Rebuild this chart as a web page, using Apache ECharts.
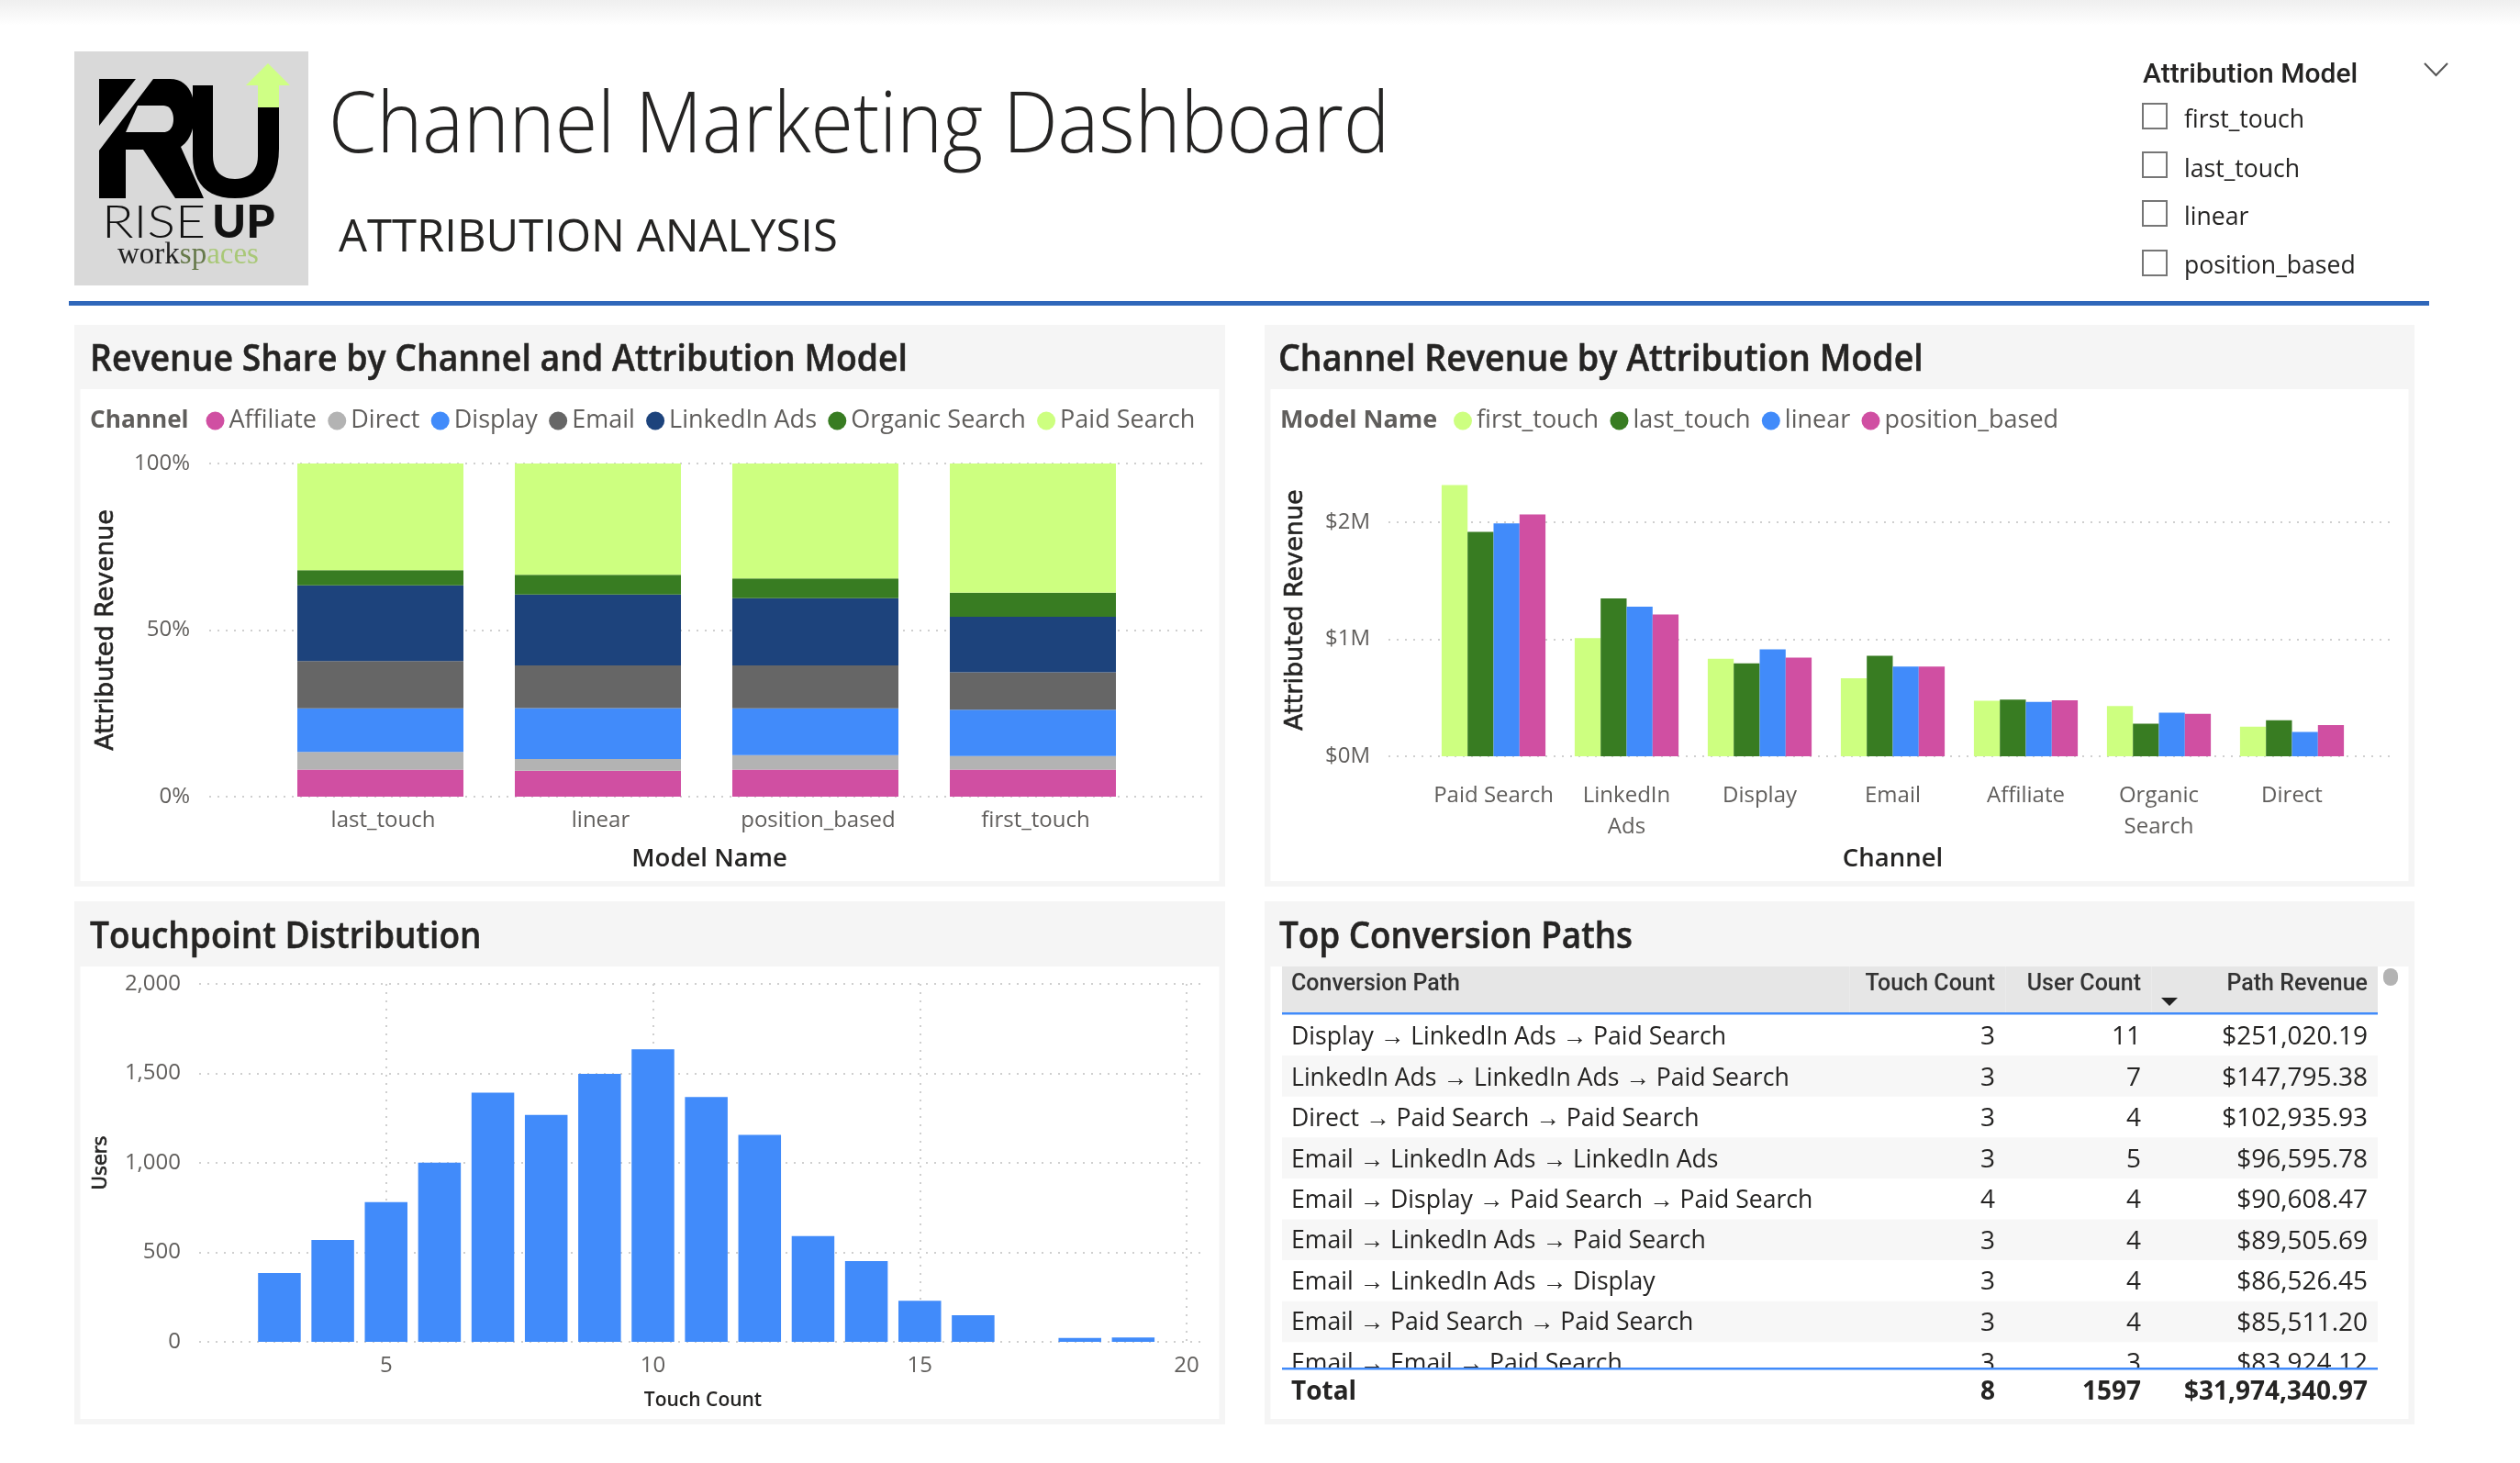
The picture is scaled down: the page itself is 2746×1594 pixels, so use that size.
<!DOCTYPE html>
<html><head><meta charset="utf-8">
<style>html,body{margin:0;padding:0;background:#fff}#c{width:2746px;height:1594px}</style>
<script src="https://cdn.jsdelivr.net/npm/echarts@6/dist/echarts.min.js"></script>
</head><body><div id="c"></div>
<script>
// ---- data ----
const models = ['last_touch','linear','position_based','first_touch'];
const channels = ['Affiliate','Direct','Display','Email','LinkedIn Ads','Organic Search','Paid Search'];
const shareAffiliate = [8.1,7.8,8.1,8.1];
const shareDirect    = [5.3,3.5,4.4,4.1];
const shareDisplay   = [13.1,15.3,14.0,13.9];
const shareEmail     = [14.2,12.8,12.9,11.2];
const shareLinkedIn  = [22.7,21.3,20.2,16.7];
const shareOrganic   = [4.6,5.9,5.9,7.2];
const sharePaid      = [32.0,33.4,34.5,38.8];
const channelOrder = ['Paid Search','LinkedIn\nAds','Display','Email','Affiliate','Organic\nSearch','Direct'];
const modelOrder = ['first_touch','last_touch','linear','position_based'];
const revFirst  = [2317000,1010000,833000,667000,474000,429000,253000];
const revLast   = [1917000,1349000,795000,859000,484000,279000,308000];
const revLinear = [1990000,1279000,913000,766000,465000,372000,208000];
const revPos    = [2067000,1212000,843000,766000,478000,362000,266000];
const touchCounts = [3,4,5,6,7,8,9,10,11,12,13,14,15,16,18,19];
const touchUsers  = [385,569,781,1001,1392,1268,1498,1635,1368,1156,591,451,230,149,22,24];
const pathHeaders = ['Conversion Path','Touch Count','User Count','Path Revenue'];
const pathNames = ['Display → LinkedIn Ads → Paid Search','LinkedIn Ads → LinkedIn Ads → Paid Search','Direct → Paid Search → Paid Search','Email → LinkedIn Ads → LinkedIn Ads','Email → Display → Paid Search → Paid Search','Email → LinkedIn Ads → Paid Search','Email → LinkedIn Ads → Display','Email → Paid Search → Paid Search','Email → Email → Paid Search'];
const pathTouch = ['3','3','3','3','4','3','3','3','3'];
const pathUsers = ['11','7','4','5','4','4','4','4','3'];
const pathRevenue = ['$251,020.19','$147,795.38','$102,935.93','$96,595.78','$90,608.47','$89,505.69','$86,526.45','$85,511.20','$83,924.12'];
const pathTotal = ['Total','8','1597','$31,974,340.97'];
const slicerItems = ['first_touch','last_touch','linear','position_based'];
// ---- style ----
const channelColors = ['#D04FA2','#B3B3B3','#418BFA','#666666','#1D437C','#387C22','#CDFF80'];
const modelColors = ['#CDFF80','#387C22','#418BFA','#D04FA2'];
const BODY='"Open Sans"', HEAD='Roboto', WIDE='"DejaVu Sans"';
const grey='#605E5C', dark='#252423', gridC='#CFCFCF';
const g=[];
const rect=(x,y,w,h,fill,extra)=>g.push(Object.assign({type:'rect',shape:{x,y,width:w,height:h},style:{fill},z:-5,silent:true},extra||{}));
const txt=(x,y,text,o)=>{o=o||{};const st={text,fill:o.color||dark,font:(o.weight||'400')+' '+(o.size||28)+'px '+(o.family||BODY),textAlign:o.align||'left',textVerticalAlign:'middle',textBaseline:'middle'};
  if(o.stroke){st.stroke=o.color||dark;st.lineWidth=o.stroke;}
  g.push({type:'text',x,y,z:o.z===undefined?5:o.z,silent:true,scaleX:o.sx||1,style:st});};
// top shade
rect(0,0,2746,28,new echarts.graphic.LinearGradient(0,0,0,1,[{offset:0,color:'#EFEFEF'},{offset:1,color:'#FFFFFF'}]));
// logo
rect(81,56,255,255,'#D9D9D9');
const toPoints=d=>{const t=d.match(/[MLCZ]|-?[\d.]+/g);const pts=[];let i=0,cur=null;
  while(i<t.length){const c=t[i++];
    if(c==='M'||c==='L'){cur=[+t[i++],+t[i++]];pts.push(cur);}
    else if(c==='C'){const a=[+t[i++],+t[i++]],b=[+t[i++],+t[i++]],e=[+t[i++],+t[i++]],s=cur;
      for(let k=1;k<=12;k++){const u=k/12,v=1-u;pts.push([v*v*v*s[0]+3*v*v*u*a[0]+3*v*u*u*b[0]+u*u*u*e[0],v*v*v*s[1]+3*v*v*u*a[1]+3*v*u*u*b[1]+u*u*u*e[1]]);}
      cur=e;}
  }return pts;};
const path=(d,fill)=>g.push({type:'polygon',shape:{points:toPoints(d)},style:{fill},z:-4,silent:true});
path('M292,69 L316,93 L304,93 L304,117 L281,117 L281,93 L268,93 Z','#CFFF85');
path('M210,93 L232,93 L232,170 C232,188 243,195 256,195 C271,195 281,186 281,170 L281,117 L304,117 L304,162 C304,200 285,216 256,216 C226,216 210,200 210,170 Z','#000');
path('M108,86 L148,86 L108,137 Z','#000');
path('M167,86 L185,86 C204,86 212,102 212,122 C212,142 206,154 197,160 L222,216 L191,216 L156,163 L137,163 L137,216 L108,216 L108,164 Z','#000');
path('M150,115 L178,115 C186,115 189,123 189,130 C189,138 185,144 178,144 L137,144 Z','#D9D9D9');
txt(111,243,'RISE',{size:50,weight:'300',family:'Lato',color:'#111',sx:1.14});
txt(231,243,'UP',{size:50,weight:'900',family:'Lato',color:'#111'});
g.push({type:'text',x:128,y:278,z:5,silent:true,style:{text:'{a|work}{b|sp}{c|aces}',textVerticalAlign:'middle',textBaseline:'middle',rich:{a:{font:'400 33px "Liberation Serif"',fill:'#222',color:'#222'},b:{font:'400 33px "Liberation Serif"',fill:'#66794a',color:'#66794a'},c:{font:'400 33px "Liberation Serif"',fill:'#a9c878',color:'#a9c878'}}}});
// headings
txt(358,140,'Channel Marketing Dashboard',{size:92,weight:'300',sx:0.918});
txt(369,260,'ATTRIBUTION ANALYSIS',{size:49});
rect(75,328,2572,5,'#2F67BA');
// slicer
txt(2335,82,'Attribution Model',{size:30,weight:'500',family:HEAD});
g.push({type:'polyline',shape:{points:[[2642,69],[2654.5,82],[2667,69]]},style:{stroke:'#555',lineWidth:2,fill:'none'},z:5,silent:true});
[112,165,218,272].forEach((y,i)=>{g.push({type:'rect',shape:{x:2335,y:y+1,width:26,height:27},style:{fill:'#fff',stroke:'#767676',lineWidth:2},z:5,silent:true});
  txt(2380,[131,185,237,290][i],slicerItems[i],{size:27,sx:0.985});});
// panels
const panel=(x,y,w,h,bandH)=>{rect(x,y,w,h,'#F5F5F5');rect(x+6.5,y+bandH,w-13,h-bandH-6,'#FFFFFF');};
panel(81,354,1254,612,70); panel(1378,354,1253,612,70);
panel(81,982,1254,570,71); panel(1378,982,1253,570,71);
const headOpt=sx=>({size:40,weight:'600',sx,stroke:0.5});
txt(98,393,'Revenue Share by Channel and Attribution Model',headOpt(0.935));
txt(1393,393,'Channel Revenue by Attribution Model',headOpt(0.94));
txt(98,1022,'Touchpoint Distribution',headOpt(0.925));
txt(1394,1022,'Top Conversion Paths',headOpt(0.92));
txt(98,458,'Channel',{size:27,weight:'700',color:grey,sx:0.97});
txt(1395,458,'Model Name',{size:27,weight:'700',color:grey});
// table
rect(1397,1053,1194,50,'#E6E6E6');
[2015,2185,2344].forEach(x=>rect(x,1053,1,50,'#EBEBEB'));
[1,3,5,7].forEach(i=>rect(1397,1105.5+i*44.6,1194,44.6,'#F7F7F7'));
rect(1397,1103,1194,2.5,'#418BFA');
const colX=[1407,2174,2333,2580];
pathHeaders.forEach((h,i)=>txt(colX[i],1073,h,{size:25,weight:'500',family:HEAD,align:i?'right':'left',color:'#333'}));
g.push({type:'polygon',shape:{points:[[2355,1087],[2373,1087],[2364,1096]]},style:{fill:'#222'},z:5,silent:true});
g.push({type:'rect',shape:{x:2597,y:1055,width:16,height:19,r:8},style:{fill:'#B3B3B3'},z:5,silent:true});
pathNames.forEach((n,i)=>{const y=1130.5+i*44.45;
  txt(colX[0],y,n,{size:27,sx:0.985});txt(colX[1],y,pathTouch[i],{size:28,align:'right'});
  txt(colX[2],y,pathUsers[i],{size:28,align:'right'});txt(colX[3],y,pathRevenue[i],{size:28,align:'right'});});
rect(1397,1490,1194,56,'#FFFFFF',{z:6});
rect(1397,1490,1194,2.5,'#418BFA',{z:7});
pathTotal.forEach((h,i)=>txt(colX[i],1517,h,{size:28,weight:'700',align:i?'right':'left',z:8}));

const axisLab={color:grey,fontFamily:BODY,fontSize:24};
const dotted={show:true,lineStyle:{type:[2,7],width:2,color:gridC}};
const off={show:false};
const nameSt=(s,f,w,o)=>Object.assign({fontFamily:f,fontSize:s,fontWeight:w||400,color:dark},o||{});
const heavy={textBorderColor:dark,textBorderWidth:0.6};
const legendBase={icon:'circle',itemWidth:20,itemHeight:20,itemGap:12.3,orient:'horizontal',selectedMode:false,textStyle:{color:grey,fontFamily:BODY,fontSize:27}};
const option={animation:false,backgroundColor:'transparent',
 graphic:{elements:g},
 legend:[
  Object.assign({},legendBase,{data:channels,left:219.5,top:440}),
  Object.assign({},legendBase,{data:modelOrder,left:1579,top:440})
 ],
 grid:[
  {left:228,width:1087,top:505,height:363},   // 0 share background
  {left:296,width:948,top:505,height:363},    // 1 share bars
  {left:1513,width:1098,top:505.25,height:318.75}, // 2 revenue background
  {left:1555,width:1015,top:505.25,height:318.75}, // 3 revenue bars
  {left:217,width:1098,top:1072,height:390},  // 4 touch background
  {left:130,width:1163,top:1072,height:390}   // 5 touch bars
 ],
 xAxis:[
  {gridIndex:0,type:'value',min:0,max:1,axisLine:off,axisTick:off,axisLabel:off,splitLine:off},
  {gridIndex:1,type:'category',data:models,axisLine:off,axisTick:off,axisLabel:Object.assign({},axisLab,{margin:14,interval:0,padding:[0,0,0,6]}),name:'Model Name',nameLocation:'middle',nameGap:54,nameTextStyle:nameSt(27.5,BODY,600,{padding:[0,0,0,6]})},
  {gridIndex:2,type:'value',min:0,max:1,axisLine:off,axisTick:off,axisLabel:off,splitLine:off},
  {gridIndex:3,type:'category',data:channelOrder,axisLine:off,axisTick:off,axisLabel:Object.assign({},axisLab,{margin:26,lineHeight:34,interval:0}),name:'Channel',nameLocation:'middle',nameGap:98,nameTextStyle:nameSt(27.5,BODY,600)},
  {gridIndex:4,type:'value',min:0,max:1,axisLine:off,axisTick:off,axisLabel:off,splitLine:off,name:'Touch Count',nameLocation:'middle',nameGap:54,nameTextStyle:nameSt(21,BODY,600)},
  {gridIndex:5,type:'value',min:0,max:20,interval:5,axisLine:off,axisTick:off,axisLabel:Object.assign({},axisLab,{margin:14,showMinLabel:false}),splitLine:Object.assign({},dotted,{showMinLine:false})}
 ],
 yAxis:[
  {gridIndex:0,type:'value',min:0,max:100,interval:50,axisLine:off,axisTick:off,splitLine:dotted,axisLabel:Object.assign({},axisLab,{formatter:'{value}%',margin:21,padding:[6,0,0,0]}),name:'Attributed Revenue',nameLocation:'middle',nameGap:99,nameTextStyle:nameSt(27,WIDE,400,heavy)},
  {gridIndex:1,type:'value',min:0,max:100,show:false},
  {gridIndex:2,type:'value',min:0,max:2500000,interval:1000000,axisLine:off,axisTick:off,splitLine:Object.assign({},dotted,{showMaxLine:false}),axisLabel:Object.assign({},axisLab,{margin:20,showMaxLabel:false,padding:[6,0,0,0],formatter:v=>'$'+(v/1000000)+'M'}),name:'Attributed Revenue',nameLocation:'middle',nameGap:88,nameTextStyle:nameSt(27,WIDE,400,heavy)},
  {gridIndex:3,type:'value',min:0,max:2500000,show:false},
  {gridIndex:4,type:'value',min:0,max:2000,interval:500,axisLine:off,axisTick:off,splitLine:dotted,axisLabel:Object.assign({},axisLab,{margin:20,padding:[6,0,0,0],formatter:v=>v>=1000?Math.floor(v/1000)+','+String(v%1000).padStart(3,'0'):String(v)}),name:'Users',nameLocation:'middle',nameGap:96,nameTextStyle:nameSt(21,WIDE,400,heavy)},
  {gridIndex:5,type:'value',min:0,max:2000,show:false}
 ],
 series:[]
};
const shares=[shareAffiliate,shareDirect,shareDisplay,shareEmail,shareLinkedIn,shareOrganic,sharePaid];
channels.forEach((c,i)=>option.series.push({name:c,type:'bar',stack:'share',xAxisIndex:1,yAxisIndex:1,data:shares[i],barWidth:181,itemStyle:{color:channelColors[i]}}));
[revFirst,revLast,revLinear,revPos].forEach((d,i)=>option.series.push({name:modelOrder[i],type:'bar',xAxisIndex:3,yAxisIndex:3,data:d,barWidth:28.3,barGap:0,itemStyle:{color:modelColors[i]}}));
option.series.push({name:'Users',type:'bar',xAxisIndex:5,yAxisIndex:5,data:touchCounts.map((t,i)=>[t,touchUsers[i]]),barWidth:46.5,itemStyle:{color:'#418BFA'}});
const chart=echarts.init(document.getElementById('c'));
chart.setOption(option);
</script></body></html>
